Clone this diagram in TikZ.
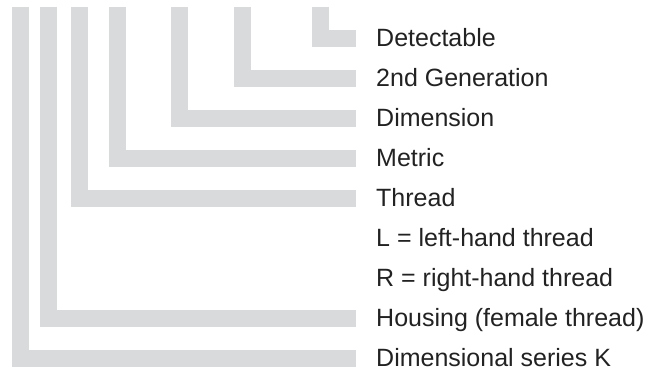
\documentclass[tikz,border=0pt]{standalone}
\usepackage{fontspec}
\setmainfont{Liberation Sans}
\definecolor{barcol}{RGB}{217,218,220}
\definecolor{txtcol}{RGB}{34,34,34}
\begin{document}
\begin{tikzpicture}[x=1pt,y=-1pt,
  bar/.style={draw=barcol,line width=17pt,line cap=butt,line join=miter},
  lbl/.style={anchor=base west,inner sep=0pt,font=\fontsize{25}{30}\selectfont,text=txtcol}]
\useasboundingbox (0,0) rectangle (660,371);
% label nodes
\node[lbl] (t1) at (376,46.5) {Detectable};
\node[lbl] (t2) at (376,86.5) {2nd Generation};
\node[lbl] (t3) at (376,126.5) {Dimension};
\node[lbl] (t4) at (376,166.5) {Metric};
\node[lbl] (t5) at (376,206.5) {Thread};
\node[lbl] (t6) at (376,246.5) {L = left-hand thread};
\node[lbl] (t7) at (376,286.5) {R = right-hand thread};
\node[lbl] (t8) at (376,326.5) {Housing (female thread)};
\node[lbl] (t9) at (376,366.5) {Dimensional series K};
% L-shaped bars
\foreach \x/\y in {320.5/38.5, 242.5/78.5, 179.5/118.5, 117.5/158.5, 79.5/198.5, 48.5/318.5, 20.5/358.5}{
  \draw[bar] (\x,7) -- (\x,\y) -- (356,\y);
}
\end{tikzpicture}
\end{document}
